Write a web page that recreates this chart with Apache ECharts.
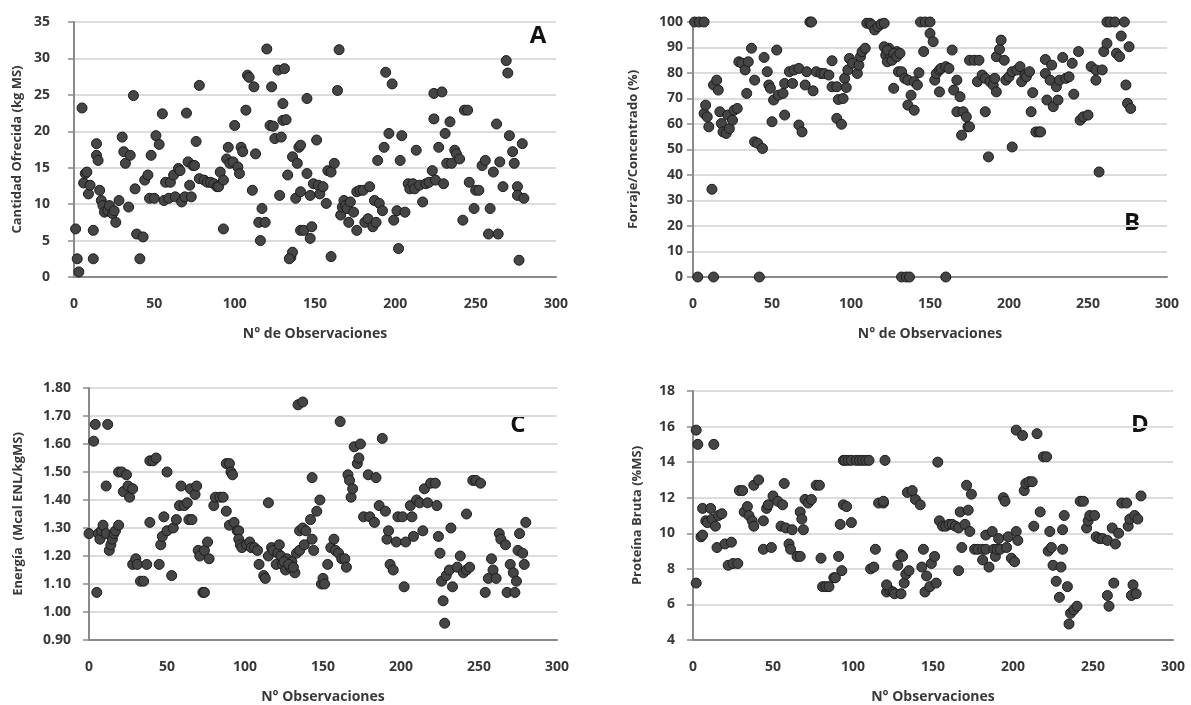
<!DOCTYPE html>
<html>
<head>
<meta charset="utf-8">
<title>Observaciones</title>
<script src="https://cdn.jsdelivr.net/npm/echarts@6/dist/echarts.min.js"></script>
<style>
    html, body { margin: 0; padding: 0; background: #fff; }
    #chart { width: 1191px; height: 705px; }
</style>
</head>
<body>
<div id="chart"></div>
<script>
// [N° observación, valor] por panel
const cantidadOfrecida = [
    [1,6.6],[2,2.5],[3,0.7],[5,23.2],[6,12.9],[7,14.2],[8,14.4],[9,11.4],[10,12.6],[12,6.4],[12,2.5],[14,18.3],[14,16.7],[15,16.0],[16,11.9],[17,10.5],[18,9.8],[19,8.9],[21,9.1],[22,9.8],[24,8.7],[26,7.5],[25,9.1],[28,10.5],[30,19.2],[31,17.2],[32,15.6],[35,16.7],[34,9.6],[37,24.9],[38,12.1],[39,5.9],[41,2.5],[43,5.5],[44,13.3],[46,14.0],[48,16.7],[47,10.8],[50,10.8],[51,19.4],[53,18.2],[55,22.4],[56,10.5],[57,13.0],[59,10.8],[60,13.0],[62,14.0],[63,11.0],[65,14.9],[66,14.6],[67,10.3],[69,11.0],[70,22.5],[71,15.8],[72,12.6],[73,11.0],[74,15.3],[75,15.3],[76,18.6],[78,26.3],[78,13.5],[81,13.3],[83,13.0],[85,13.0],[87,12.8],[89,12.4],[90,12.4],[91,14.4],[93,13.3],[93,6.6],[95,16.2],[96,17.8],[97,15.6],[99,15.8],[100,20.8],[102,15.1],[103,14.2],[104,17.8],[105,17.2],[107,22.9],[108,27.7],[109,27.4],[111,11.9],[112,26.1],[113,16.9],[115,7.5],[116,5.0],[117,9.4],[119,7.5],[120,31.3],[122,20.8],[123,26.1],[124,20.7],[125,19.0],[127,28.4],[128,11.2],[130,23.8],[131,28.6],[130,21.5],[132,21.6],[133,14.0],[135,2.7],[136,3.4],[136,16.5],[138,10.8],[139,15.6],[140,17.8],[141,6.4],[129,19.2],[134,2.5],[141,11.7],[141,18.1],[145,24.5],[145,14.2],[147,11.2],[143,6.4],[148,6.9],[147,5.3],[149,12.8],[151,18.8],[152,12.6],[153,11.4],[155,12.4],[157,10.1],[158,14.6],[160,14.4],[162,15.6],[160,2.8],[164,25.6],[165,31.2],[166,8.5],[167,9.6],[168,10.5],[169,9.8],[170,9.4],[171,7.5],[172,10.3],[174,8.9],[176,6.4],[176,11.7],[178,11.9],[180,11.9],[181,7.5],[183,8.0],[184,12.4],[186,6.9],[188,7.5],[187,10.5],[190,10.1],[189,16.0],[192,9.1],[193,17.8],[194,28.1],[196,19.7],[198,26.5],[199,7.8],[201,9.1],[202,3.9],[203,16.0],[204,19.4],[206,8.9],[208,12.8],[209,12.1],[211,12.8],[212,12.1],[213,17.4],[215,12.6],[217,10.3],[219,12.8],[221,13.0],[223,14.6],[224,21.7],[224,25.2],[225,13.3],[227,17.8],[229,25.4],[230,12.8],[231,19.7],[232,15.6],[234,21.3],[235,15.6],[237,17.4],[238,16.9],[240,16.2],[242,7.8],[243,22.9],[245,22.9],[246,13.0],[249,9.4],[250,11.9],[252,11.9],[254,15.3],[256,16.0],[258,5.9],[259,9.4],[261,14.4],[263,21.0],[264,5.9],[265,15.8],[267,12.4],[269,29.7],[270,28.0],[271,19.4],[273,17.2],[274,15.6],[276,12.4],[276,11.2],[277,2.3],[279,18.3],[280,10.8]
];

const forrajeConcentrado = [
    [1,100],[4,100],[7,100],[3,0],[13,0],[42,0],[7,64.1],[8,67.4],[9,62.8],[10,58.9],[12,34.4],[13,75.3],[15,77.2],[16,73.3],[17,64.8],[18,60.2],[19,56.9],[21,56.3],[22,63.5],[23,58.2],[25,61.5],[26,65.4],[28,66.1],[29,84.4],[31,83.8],[33,81.2],[34,72],[35,84.4],[37,89.7],[39,77.2],[39,53],[41,52.4],[44,50.4],[45,86.1],[47,80.5],[48,75.3],[49,74],[50,60.9],[51,69.4],[53,89],[54,71.3],[57,72],[58,63.5],[58,75.9],[61,80.5],[63,75.9],[64,81.2],[67,81.8],[67,59.6],[69,56.9],[71,75.3],[74,100],[75,100],[76,73],[72,80.5],[78,80.5],[81,79.8],[83,79.8],[86,79.2],[88,84.8],[88,74.6],[91,74.6],[91,62.2],[94,59.9],[92,69.6],[95,70],[96,77.9],[97,74.3],[98,81.2],[99,85.7],[101,83.8],[104,79.8],[105,83.1],[106,86.4],[107,88.4],[109,89.7],[110,99.5],[112,99.5],[113,98.8],[115,96.9],[117,98.2],[119,99.2],[121,99.5],[122,89.7],[122,87],[123,84.4],[124,89.7],[125,87],[126,85],[127,74],[129,88.4],[130,80.5],[121,90.3],[123,89],[127,87.7],[129,86.4],[131,87.7],[132,80.5],[134,77.9],[136,77.2],[140,76.6],[142,75.3],[138,71.3],[136,67.4],[140,65.4],[132,0],[135,0],[137,0],[160,0],[143,80.1],[144,100],[147,100],[150,100],[150,95.5],[152,92.3],[146,88.4],[153,77.2],[154,79.8],[156,81.2],[157,81.8],[160,82.5],[162,81.8],[156,72.6],[164,89],[165,73.3],[167,77.2],[169,70.7],[167,64.8],[171,64.8],[173,62.8],[174,58.9],[175,58.9],[170,55.6],[175,85],[178,85],[181,85],[180,76.6],[183,79.2],[185,64.8],[185,77.9],[187,47.1],[188,76.6],[190,75.3],[191,77.9],[192,72.6],[192,86.4],[194,89.3],[195,92.9],[197,85],[198,77.2],[200,78.5],[202,51],[202,80.5],[205,81.2],[207,82.5],[208,76.6],[210,79.2],[211,78.5],[213,80.5],[214,64.8],[215,72.3],[217,56.9],[219,56.9],[220,56.9],[223,85.3],[223,79.8],[224,69.4],[226,77.2],[227,83.1],[228,66.8],[230,74.6],[231,69.4],[232,77.2],[234,86.1],[236,77.9],[238,78.5],[240,83.8],[241,71.7],[244,88.4],[245,61.5],[247,62.8],[250,63.5],[252,82.5],[255,77.2],[255,81.2],[257,41.2],[259,81.2],[260,88.4],[262,91.6],[262,100],[264,100],[267,100],[273,100],[268,87.7],[270,86.4],[271,94.5],[276,90.3],[274,75.3],[275,68.1],[277,66.1]
];

const energia = [
    [0,1.28],[3,1.61],[4,1.67],[5,1.07],[6,1.28],[7,1.26],[8,1.29],[9,1.31],[11,1.28],[11,1.45],[12,1.67],[13,1.22],[14,1.24],[15,1.26],[16,1.28],[17,1.29],[19,1.31],[19,1.50],[21,1.50],[22,1.43],[24,1.49],[25,1.45],[26,1.41],[28,1.44],[28,1.17],[30,1.19],[31,1.17],[33,1.11],[35,1.11],[37,1.17],[39,1.32],[39,1.54],[41,1.54],[43,1.55],[45,1.17],[46,1.24],[47,1.27],[48,1.34],[50,1.50],[50,1.29],[53,1.13],[54,1.30],[56,1.33],[58,1.38],[59,1.45],[61,1.38],[63,1.39],[64,1.33],[66,1.33],[65,1.44],[68,1.42],[69,1.45],[70,1.22],[71,1.20],[73,1.07],[74,1.07],[74,1.22],[76,1.25],[77,1.19],[80,1.38],[81,1.41],[84,1.41],[86,1.41],[88,1.36],[88,1.53],[90,1.53],[91,1.50],[92,1.49],[90,1.31],[93,1.32],[95,1.29],[96,1.29],[96,1.26],[97,1.24],[98,1.23],[101,1.24],[103,1.25],[104,1.23],[106,1.23],[108,1.22],[109,1.17],[112,1.13],[113,1.12],[115,1.39],[115,1.20],[117,1.23],[118,1.22],[120,1.17],[121,1.21],[123,1.20],[124,1.17],[126,1.15],[127,1.19],[129,1.16],[130,1.18],[132,1.14],[133,1.21],[134,1.74],[135,1.29],[122,1.24],[125,1.18],[128,1.17],[131,1.16],[137,1.75],[135,1.22],[137,1.30],[138,1.24],[139,1.29],[142,1.33],[143,1.26],[143,1.48],[144,1.22],[146,1.36],[148,1.40],[149,1.10],[150,1.12],[151,1.10],[153,1.17],[155,1.23],[157,1.26],[158,1.22],[160,1.21],[161,1.68],[162,1.19],[164,1.19],[165,1.16],[166,1.49],[167,1.47],[168,1.41],[169,1.44],[170,1.59],[172,1.53],[173,1.55],[174,1.60],[176,1.34],[179,1.49],[180,1.34],[183,1.32],[184,1.48],[186,1.38],[188,1.62],[190,1.36],[191,1.26],[192,1.29],[193,1.17],[195,1.15],[197,1.25],[198,1.34],[201,1.34],[202,1.09],[203,1.25],[206,1.38],[207,1.34],[208,1.27],[210,1.40],[212,1.39],[214,1.29],[215,1.44],[217,1.39],[219,1.46],[222,1.46],[223,1.38],[224,1.27],[225,1.21],[226,1.11],[227,1.04],[228,0.96],[229,1.13],[231,1.15],[232,1.30],[233,1.09],[236,1.16],[238,1.20],[240,1.14],[242,1.15],[242,1.35],[244,1.16],[246,1.47],[248,1.47],[251,1.46],[254,1.07],[256,1.12],[258,1.19],[259,1.15],[261,1.12],[263,1.28],[264,1.26],[267,1.24],[268,1.07],[270,1.17],[272,1.14],[273,1.07],[274,1.11],[275,1.22],[276,1.28],[278,1.21],[279,1.17],[280,1.32]
];

const proteinaBruta = [
    [2,15.8],[3,15.0],[2,7.2],[5,9.8],[6,9.9],[6,11.4],[8,10.7],[9,10.6],[11,11.4],[12,10.8],[13,15.0],[14,10.4],[15,9.2],[16,11.0],[18,11.1],[20,9.4],[22,8.2],[24,9.5],[25,8.3],[28,8.3],[29,12.4],[31,12.4],[32,11.2],[34,11.5],[35,11.0],[37,10.7],[38,10.4],[38,12.7],[41,13.0],[44,10.7],[44,9.1],[46,11.4],[47,11.6],[49,9.2],[50,12.1],[53,11.8],[55,10.4],[56,11.6],[57,12.8],[58,10.3],[60,9.4],[61,9.1],[62,10.2],[65,8.7],[67,8.7],[67,11.2],[68,10.8],[69,10.2],[70,11.9],[72,11.7],[74,11.9],[77,12.7],[79,12.7],[80,8.6],[81,7.0],[83,7.0],[85,7.0],[88,7.5],[89,7.5],[91,8.7],[92,10.5],[93,7.9],[94,11.6],[96,11.5],[99,10.6],[94,14.1],[95,14.1],[97,14.1],[99,14.1],[102,14.1],[104,14.1],[106,14.1],[108,14.1],[110,14.1],[111,8.0],[113,8.1],[114,9.1],[116,11.7],[119,11.7],[120,14.1],[121,6.7],[123,6.8],[125,6.7],[128,8.2],[130,8.8],[119,11.8],[121,7.1],[126,6.6],[130,6.6],[131,8.7],[132,7.2],[133,7.7],[135,7.9],[134,12.3],[137,12.4],[139,11.9],[142,11.6],[143,8.1],[144,9.1],[145,6.7],[146,7.6],[148,7.0],[149,8.3],[151,8.7],[152,7.2],[153,14.0],[154,10.7],[156,10.4],[158,10.4],[160,10.5],[162,10.5],[164,10.4],[166,10.3],[166,7.9],[167,11.2],[168,9.2],[170,10.5],[171,12.7],[172,11.3],[173,10.1],[174,12.2],[176,9.1],[178,9.1],[181,9.1],[181,8.5],[183,9.1],[183,9.9],[185,8.1],[187,10.1],[188,9.1],[189,8.7],[190,9.1],[191,9.7],[192,9.1],[194,12.0],[195,11.8],[196,9.2],[197,9.8],[199,8.6],[201,8.4],[202,10.1],[203,9.6],[202,15.8],[206,15.5],[207,12.4],[208,12.8],[210,12.9],[212,12.9],[213,10.4],[215,15.6],[217,11.2],[219,14.3],[221,14.3],[222,9.0],[223,10.1],[224,9.2],[225,8.2],[227,7.3],[229,6.4],[230,8.1],[231,10.2],[231,9.1],[232,11.0],[234,7.0],[235,4.9],[236,5.5],[238,5.7],[240,5.9],[242,11.8],[244,11.8],[246,10.3],[247,10.7],[248,11.0],[251,11.0],[252,9.8],[254,9.7],[256,9.7],[259,9.6],[259,6.5],[260,5.9],[262,10.3],[263,7.2],[264,9.4],[266,10.0],[268,11.7],[271,11.7],[272,10.4],[273,10.8],[274,6.5],[275,7.1],[276,11.0],[277,6.6],[278,10.8],[280,12.1]
];

const panelLetters = ['A', 'B', 'C', 'D'];
const xTitles = ['N° de Observaciones', 'N° de Observaciones', 'N° Observaciones', 'N° Observaciones'];
const yTitles = ['Cantidad Ofrecida (kg MS)', 'Forraje/Concentrado (%)', 'Energía  (Mcal ENL/kgMS)', 'Proteína Bruta (%MS)'];

const FONT = 'Open Sans';
const TXT = '#383838';

function textStyle (size) {
    return { fontFamily: FONT, fontSize: size, fontWeight: 'bold', color: TXT };
}

function xAxisFor (gridIndex, title) {
    return {
        type: 'value',
        gridIndex: gridIndex,
        min: 0,
        max: 300,
        interval: 50,
        name: title,
        nameLocation: 'middle',
        nameGap: 50,
        nameTextStyle: textStyle(14),
        axisLine: { show: true, lineStyle: { color: '#8a8a8a', width: 2 } },
        axisTick: { show: false },
        axisLabel: Object.assign({ margin: 20 }, textStyle(14)),
        splitLine: { show: false },
    };
}

function yAxisFor (gridIndex, title, min, max, interval, opts) {
    return Object.assign({
        type: 'value',
        gridIndex: gridIndex,
        min: min,
        max: max,
        interval: interval,
        name: title,
        nameLocation: 'middle',
        nameGap: 48,
        nameTextStyle: textStyle(13),
        axisLine: { show: true, lineStyle: { color: '#8a8a8a', width: 2 } },
        axisTick: { show: true, length: 6, lineStyle: { color: '#8a8a8a', width: 1.5 } },
        axisLabel: Object.assign({ margin: 18 }, textStyle(14)),
        splitLine: { show: true, lineStyle: { color: '#dcdcdc', width: 2 } },
    }, opts || {});
}

function scatterFor (idx, data) {
    return {
        type: 'scatter',
        xAxisIndex: idx,
        yAxisIndex: idx,
        data: data,
        symbolSize: 10,
        itemStyle: { color: '#454545', borderColor: '#1c1c1c', borderWidth: 1, opacity: 1 },
        silent: true,
    };
}

const chart = echarts.init(document.getElementById('chart'));

const letterPos = [[538, 36], [1132, 223], [518, 425], [1140, 425]];

const option = {
    backgroundColor: '#ffffff',
    animation: false,
    grid: [
        { left: 74, right: 635, top: 22, bottom: 428 },
        { left: 693, right: 24, top: 22, bottom: 428 },
        { left: 89, right: 634, top: 388, bottom: 62 },
        { left: 693, right: 18, top: 391, bottom: 62 },
    ],
    xAxis: [
        xAxisFor(0, xTitles[0]),
        xAxisFor(1, xTitles[1]),
        xAxisFor(2, xTitles[2]),
        xAxisFor(3, xTitles[3]),
    ],
    yAxis: [
        yAxisFor(0, yTitles[0], 0, 35, 5, { nameGap: 50, axisLabel: Object.assign({ margin: 24 }, textStyle(14)) }),
        yAxisFor(1, yTitles[1], 0, 100, 10, { nameGap: 53, axisLabel: Object.assign({ margin: 10 }, textStyle(14)) }),
        yAxisFor(2, yTitles[2], 0.9, 1.8, 0.1, {
            nameGap: 64,
            axisLabel: Object.assign({ margin: 18, formatter: (v) => v.toFixed(2) }, textStyle(14)),
        }),
        yAxisFor(3, yTitles[3], 4, 18, 2, { nameGap: 49 }),
    ],
    series: [
        scatterFor(0, cantidadOfrecida),
        scatterFor(1, forrajeConcentrado),
        scatterFor(2, energia),
        scatterFor(3, proteinaBruta),
    ],
    graphic: panelLetters.map((letter, i) => ({
        type: 'text',
        x: letterPos[i][0],
        y: letterPos[i][1],
        style: {
            text: letter,
            fontFamily: FONT,
            fontSize: 24,
            fontWeight: 'bold',
            fill: '#111',
            align: 'center',
            verticalAlign: 'middle',
        },
    })),
};

chart.setOption(option);
</script>
</body>
</html>
